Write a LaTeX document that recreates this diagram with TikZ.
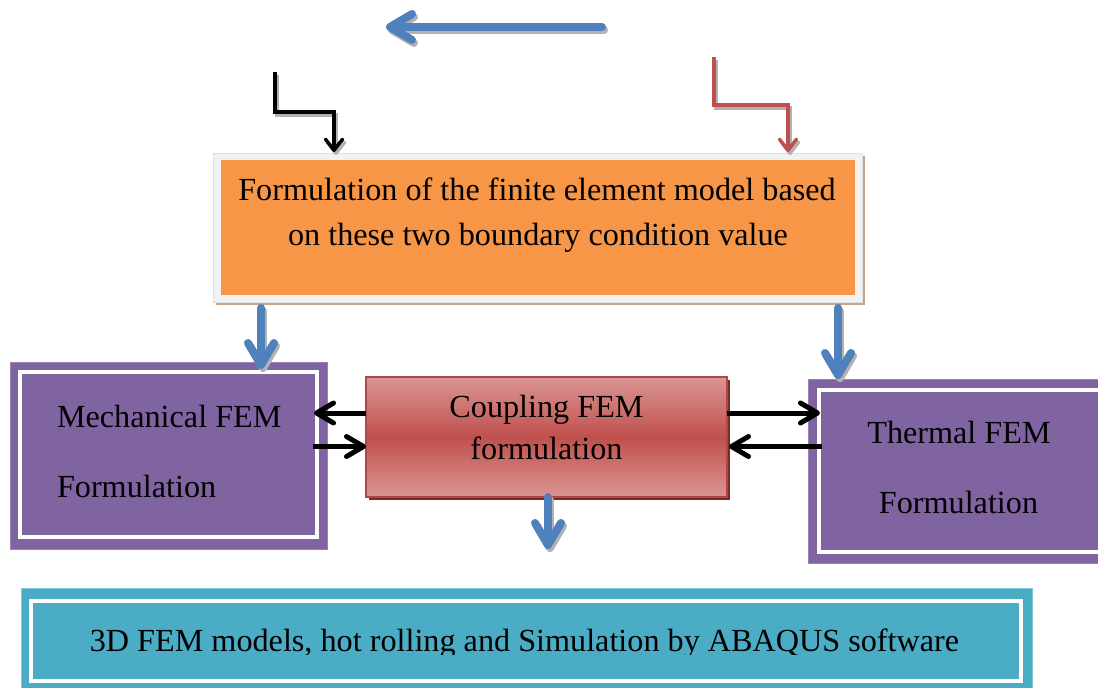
\documentclass[tikz,border=0pt]{standalone}
\usepackage{fontspec}
\setmainfont{Liberation Serif}
\usetikzlibrary{arrows.meta,shadows}
\definecolor{bl}{HTML}{4F81BD}
\definecolor{rd}{HTML}{C0504D}
\definecolor{pu}{HTML}{8064A2}
\definecolor{tl}{HTML}{4BACC6}
\definecolor{orng}{HTML}{F79646}
\definecolor{lrd}{HTML}{DA9694}
\definecolor{tanc}{HTML}{C9A386}
\definecolor{drd}{HTML}{7A2B28}
\definecolor{frm}{HTML}{F2F2F2}
\begin{document}
\begin{tikzpicture}[x=1pt,y=-1pt,
  txt/.style={font=\fontsize{32.2}{38}\selectfont, inner sep=0, outer sep=0},
  boxx/.style={inner sep=0, outer sep=0, draw=none},
  shd/.style={draw=gray!60, transform canvas={shift={(2pt,-3pt)}}},
  bluearrow/.style={draw=bl, line width=8pt, line cap=round,
     -{Straight Barb[length=22pt,width=26pt,round]}},
  elbow/.style={line width=3.5pt, line join=miter,
     -{Straight Barb[length=11pt,width=17pt,round]}},
  barrow/.style={draw=black, line width=5pt,
     -{Straight Barb[length=17pt,width=20pt,round]}}]
\useasboundingbox (0,0) rectangle (1098,688);
\fill[white] (0,0) rectangle (1098,688);

% orange block
\node[boxx, fill=frm, draw=gray!25, line width=0.8pt, minimum width=649pt, minimum height=149pt,
  drop shadow={shadow xshift=3pt, shadow yshift=-3pt, fill=tanc, opacity=1}] (formf) at (537.5,227.5) {};
\node[boxx, fill=orng, minimum width=634pt, minimum height=135pt] (form) at (538,227.5) {};
\node[txt, anchor=base] (t1) at (537,200) {Formulation of the finite element model based};
\node[txt, anchor=base] (t2) at (538,245) {on these two boundary condition value};

% mechanical
\node[boxx, fill=pu, draw=pu!80!white, minimum width=317pt, minimum height=187pt] (mech) at (168.5,455.5) {};
\draw[white, line width=3.5pt] ([shift={(10,10)}]mech.north west) rectangle ([shift={(-10,-12)}]mech.south east);
\node[txt, anchor=base west] (m1) at (57,427) {Mechanical FEM};
\node[txt, anchor=base west] (m2) at (57,497) {Formulation};

% coupling
\node[boxx, top color=lrd, bottom color=lrd, middle color=rd, draw=rd!90!black, line width=1.2pt,
  minimum width=361pt, minimum height=120pt,
  drop shadow={shadow xshift=3pt, shadow yshift=-3pt, fill=drd, opacity=1}] (coup) at (546.5,437) {};
\node[txt, anchor=base] (c1) at (546.5,417) {Coupling FEM};
\node[txt, anchor=base] (c2) at (546.5,459) {formulation};

% thermal
\node[boxx, fill=pu, draw=pu!80!white, minimum width=307pt, minimum height=184pt] (therm) at (961.5,471) {};
\draw[white, line width=3.5pt] ([shift={(11,11)}]therm.north west) rectangle ([shift={(-11,-11)}]therm.south east);
\node[txt, anchor=base] (h1) at (959,443) {Thermal FEM};
\node[txt, anchor=base] (h2) at (958.5,513) {Formulation};

% bottom
\node[boxx, fill=tl, draw=tl!70!white, minimum width=1011pt, minimum height=112pt] (bot) at (526.5,644) {};
\draw[white, line width=3.5pt] ([shift={(10,13)}]bot.north west) rectangle ([shift={(-11,-19)}]bot.south east);
\begin{scope}
\clip (0,0) rectangle (1098,654);
\node[txt, anchor=base] (b1) at (524.5,651) {3D FEM models, hot rolling and Simulation by ABAQUS software};
\end{scope}

% connectors
\coordinate (ts) at (602,27);
\coordinate (te) at (386,27);
\draw[bluearrow, shd] (ts) -- (te);
\draw[bluearrow] (ts) -- (te);

\coordinate (ks) at (275,72);
\coordinate (ke) at (334,152);
\draw[elbow, shd] (ks) -- ++(0,40) -| (ke);
\draw[elbow, draw=black] (ks) -- ++(0,40) -| (ke);

\coordinate (rs) at (714,57);
\coordinate (re) at (788,152);
\draw[elbow, shd] (rs) -- ++(0,48) -| (re);
\draw[elbow, draw=rd] (rs) -- ++(0,48) -| (re);

\coordinate (l1s) at (261,308);
\coordinate (l1e) at (261,369);
\draw[bluearrow, shd] (l1s) -- (l1e);
\draw[bluearrow] (l1s) -- (l1e);
\coordinate (r1s) at (838,308);
\coordinate (r1e) at (838,379);
\draw[bluearrow, shd] (r1s) -- (r1e);
\draw[bluearrow] (r1s) -- (r1e);
\coordinate (ce) at (548,549);
\draw[bluearrow, shd] ([xshift=1.5pt]coup.south) -- (ce);
\draw[bluearrow] ([xshift=1.5pt]coup.south) -- (ce);

\coordinate (ml1) at (314,413);
\coordinate (ml2) at (313,446.5);
\draw[barrow] (coup.west |- ml1) -- (ml1);
\draw[barrow] (ml2) -- (coup.west |- ml2);
\coordinate (tr1) at (820,413);
\coordinate (tr2) at (822,446.5);
\draw[barrow] (coup.east |- tr1) -- (tr1);
\draw[barrow] (tr2) -- ([xshift=2pt]coup.east |- tr2);
\end{tikzpicture}
\end{document}
